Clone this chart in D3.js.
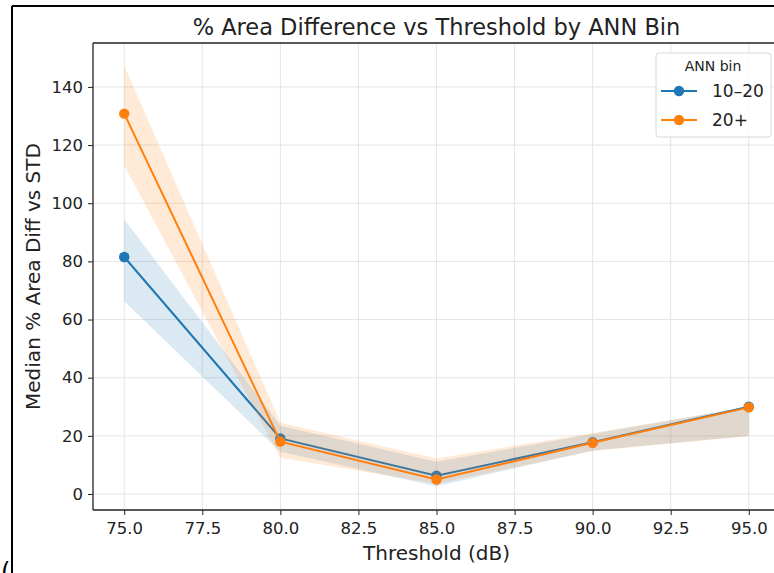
<!DOCTYPE html>
<html>
<head>
<meta charset="utf-8">
<script src="https://d3js.org/d3.v7.min.js"></script>
<style>
  body { margin: 0; background: #fff; }
  svg { font-family: "DejaVu Sans", sans-serif; display: block; }
</style>
</head>
<body>
<div id="viz"></div>
<script>
var thresholds = [75, 80, 85, 90, 95];
var xTicks = [75, 77.5, 80, 82.5, 85, 87.5, 90, 92.5, 95];
var yTicks = [0, 20, 40, 60, 80, 100, 120, 140];

var binLabels = ["10\u201320", "20+"];
var binColors = ["#1f77b4", "#ff7f0e"];

var medLow = [81.5, 19.1, 6.3, 17.8, 30.0];
var loLow  = [66.3, 14.5, 2.7, 15.0, 20.0];
var hiLow  = [94.5, 23.5, 11.1, 20.6, 30.0];

var medHigh = [130.8, 18.0, 5.0, 17.6, 29.8];
var loHigh  = [113.0, 12.5, 3.5, 14.8, 19.9];
var hiHigh  = [147.4, 24.5, 12.2, 21.0, 29.9];

var series = [
  {name: binLabels[0], color: binColors[0], med: medLow, lo: loLow, hi: hiLow},
  {name: binLabels[1], color: binColors[1], med: medHigh, lo: loHigh, hi: hiHigh}
];

var W = 774, H = 573;
var pLeft = 93, pRight = 780, pTop = 43, pBottom = 510;

var svg = d3.select("#viz").append("svg")
    .attr("width", W)
    .attr("height", H);

svg.append("rect").attr("width", W).attr("height", H).attr("fill", "#fff");

// outer frame of the cropped figure
svg.append("line").attr("x1", 12).attr("x2", W).attr("y1", 6).attr("y2", 6)
    .attr("stroke", "#000").attr("stroke-width", 2);
svg.append("line").attr("x1", 12).attr("x2", 12).attr("y1", 6).attr("y2", H)
    .attr("stroke", "#000").attr("stroke-width", 2);
svg.append("text").attr("x", 1).attr("y", 580).attr("font-size", 24).text("(");

var x = d3.scaleLinear().domain([74, 96]).range([pLeft, pRight]);
var y = d3.scaleLinear().domain([-5.5, 155.1]).range([pBottom, pTop]);

// grid
svg.append("g").selectAll("line").data(xTicks).enter().append("line")
    .attr("x1", function(d){ return x(d); })
    .attr("x2", function(d){ return x(d); })
    .attr("y1", pTop).attr("y2", pBottom)
    .attr("stroke", "#e5e5e5").attr("stroke-width", 1);
svg.append("g").selectAll("line").data(yTicks).enter().append("line")
    .attr("x1", pLeft).attr("x2", pRight)
    .attr("y1", function(d){ return y(d); })
    .attr("y2", function(d){ return y(d); })
    .attr("stroke", "#e5e5e5").attr("stroke-width", 1);

// bands + lines
var area = d3.area()
    .x(function(d){ return x(d.t); })
    .y0(function(d){ return y(d.lo); })
    .y1(function(d){ return y(d.hi); });
var line = d3.line()
    .x(function(d){ return x(d.t); })
    .y(function(d){ return y(d.v); });

series.forEach(function(s){
  var pts = thresholds.map(function(t, i){
    return {t: t, v: s.med[i], lo: s.lo[i], hi: s.hi[i]};
  });
  svg.append("path").datum(pts)
      .attr("d", area)
      .attr("fill", s.color)
      .attr("fill-opacity", 0.16);
  svg.append("path").datum(pts)
      .attr("d", line)
      .attr("fill", "none")
      .attr("stroke", s.color)
      .attr("stroke-width", 2);
  svg.append("g").selectAll("circle").data(pts).enter().append("circle")
      .attr("cx", function(d){ return x(d.t); })
      .attr("cy", function(d){ return y(d.v); })
      .attr("r", 5.2)
      .attr("fill", s.color);
});

// axes
var xAxis = svg.append("g")
    .attr("transform", "translate(0," + pBottom + ")")
    .call(d3.axisBottom(x).tickValues(xTicks).tickFormat(d3.format(".1f")).tickSize(5).tickPadding(5));
var yAxis = svg.append("g")
    .attr("transform", "translate(" + pLeft + ",0)")
    .call(d3.axisLeft(y).tickValues(yTicks).tickSize(5).tickPadding(5));
[xAxis, yAxis].forEach(function(a){
  a.select(".domain").remove();
  a.selectAll("text").attr("font-size", 16.5).attr("fill", "#222")
      .attr("font-family", "DejaVu Sans, sans-serif");
  a.selectAll("line").attr("stroke", "#222");
});
xAxis.selectAll("text").attr("dy", "0.85em");

// spines
svg.append("line").attr("x1", pLeft).attr("x2", pLeft).attr("y1", pTop).attr("y2", pBottom)
    .attr("stroke", "#222").attr("stroke-width", 1.3);
svg.append("line").attr("x1", pLeft).attr("x2", pRight).attr("y1", pBottom).attr("y2", pBottom)
    .attr("stroke", "#222").attr("stroke-width", 1.3);
svg.append("line").attr("x1", pLeft).attr("x2", pRight).attr("y1", pTop).attr("y2", pTop)
    .attr("stroke", "#222").attr("stroke-width", 1.3);

// title and labels
svg.append("text").attr("x", (pLeft + pRight) / 2).attr("y", 35)
    .attr("text-anchor", "middle").attr("font-size", 22.5).attr("fill", "#222")
    .text("% Area Difference vs Threshold by ANN Bin");
svg.append("text").attr("x", (pLeft + pRight) / 2).attr("y", 560)
    .attr("text-anchor", "middle").attr("font-size", 20).attr("fill", "#222")
    .text("Threshold (dB)");
svg.append("text")
    .attr("transform", "translate(40," + ((pTop + pBottom) / 2) + ") rotate(-90)")
    .attr("text-anchor", "middle").attr("font-size", 20).attr("fill", "#222")
    .text("Median % Area Diff vs STD");

// legend
var lg = svg.append("g").attr("transform", "translate(656,53)");
lg.append("rect").attr("width", 115).attr("height", 84).attr("rx", 3)
    .attr("fill", "#fff").attr("fill-opacity", 0.85)
    .attr("stroke", "#d8d8d8").attr("stroke-width", 1);
lg.append("text").attr("x", 57).attr("y", 18).attr("text-anchor", "middle")
    .attr("font-size", 14).attr("fill", "#222").text("ANN bin");
series.forEach(function(s, i){
  var yy = 38 + i * 29;
  lg.append("line").attr("x1", 5).attr("x2", 41).attr("y1", yy).attr("y2", yy)
      .attr("stroke", s.color).attr("stroke-width", 2);
  lg.append("circle").attr("cx", 23).attr("cy", yy).attr("r", 5.2).attr("fill", s.color);
  lg.append("text").attr("x", 56).attr("y", yy + 6).attr("font-size", 17)
      .attr("fill", "#222").text(s.name);
});
</script>
</body>
</html>
